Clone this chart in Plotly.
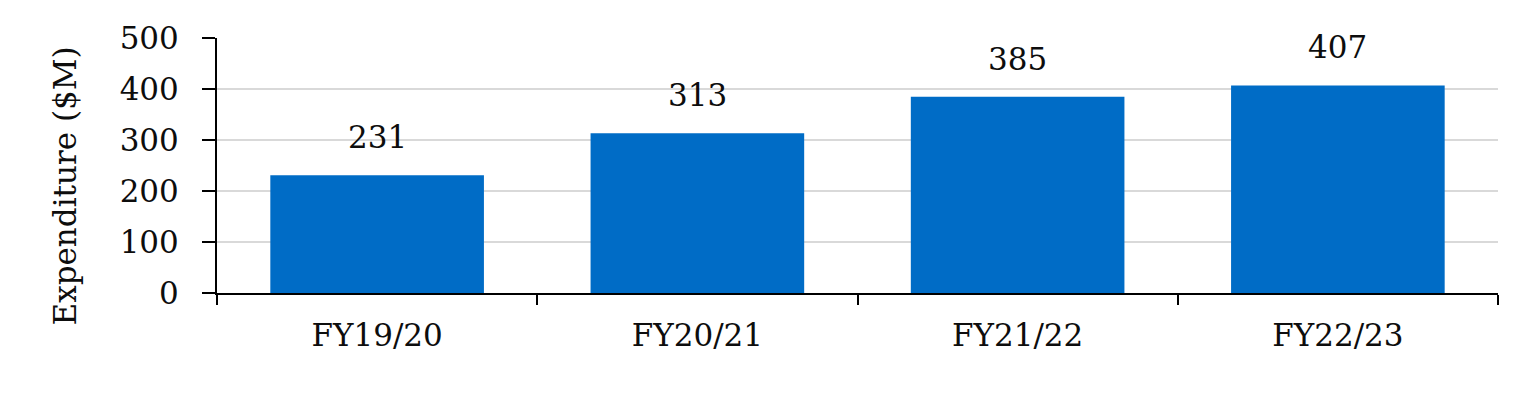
import plotly.graph_objects as go

categories = ["FY19/20", "FY20/21", "FY21/22", "FY22/23"]
values = [231, 313, 385, 407]
y_ticks = [0, 100, 200, 300, 400, 500]

FONT = "DejaVu Serif"
BAR = "#006CC6"
TXT = "#0d0d0d"
FS = 31

fig = go.Figure()
fig.add_trace(go.Bar(x=categories, y=values, marker=dict(color=BAR, line=dict(width=0)),
                     hoverinfo="skip"))

for c, v in zip(categories, values):
    fig.add_annotation(x=c, y=v, text=str(v), showarrow=False, yanchor="bottom",
                       yshift=18, font=dict(family=FONT, size=FS, color=TXT))

fig.add_annotation(xref="paper", yref="paper", x=-0.119, y=0.42, text="Expenditure ($M)",
                   textangle=-90, showarrow=False, xanchor="center", yanchor="middle",
                   font=dict(family=FONT, size=FS, color=TXT))

fig.update_layout(
    width=1528, height=409,
    margin=dict(l=209, r=38, t=25, b=124),
    paper_bgcolor="white", plot_bgcolor="white",
    bargap=0.333, showlegend=False,
    font=dict(family=FONT, size=FS, color=TXT),
)
fig.update_xaxes(showline=True, linecolor="black", linewidth=2, ticks="outside",
                 tickson="boundaries", ticklen=10, tickwidth=2, tickcolor="black",
                 showgrid=False, tickfont=dict(family=FONT, size=FS, color=TXT),
                 ticklabelstandoff=14)
fig.update_yaxes(range=[0, 500], tickvals=y_ticks, showline=True, linecolor="black",
                 linewidth=2, ticks="outside", ticklen=13, tickwidth=2, tickcolor="black",
                 showgrid=True, gridcolor="#D9D9D9", gridwidth=2, zeroline=False,
                 tickfont=dict(family=FONT, size=FS, color=TXT), ticklabelstandoff=17)

fig.write_html("out.html")
